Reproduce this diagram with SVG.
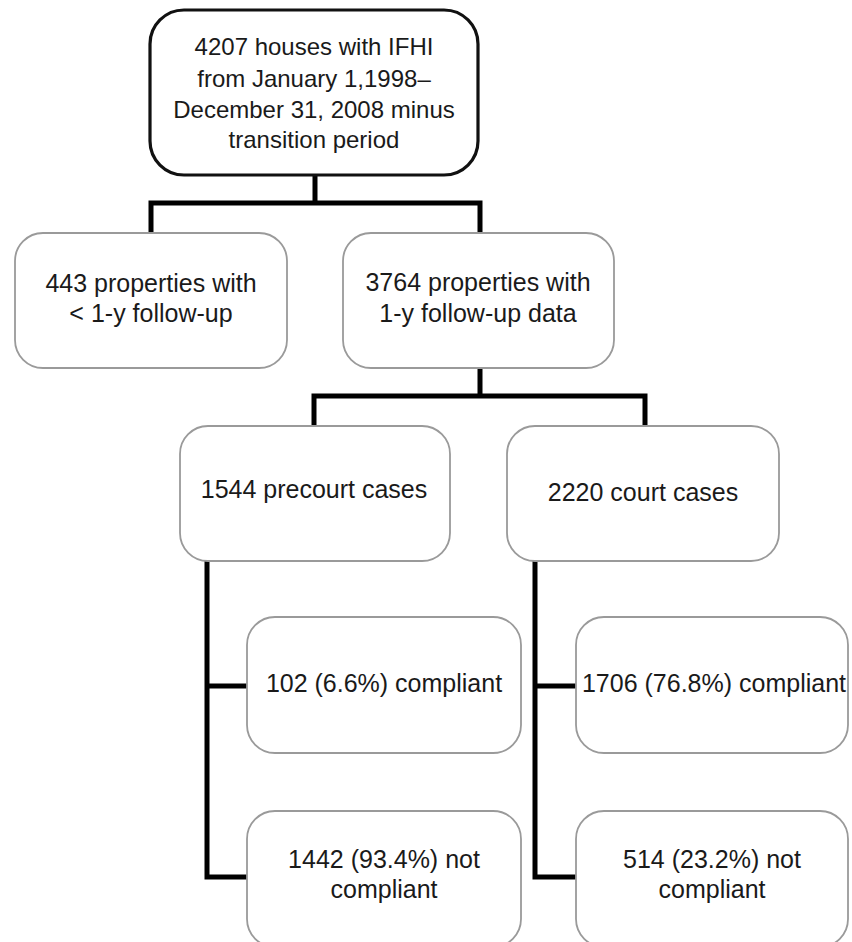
<svg xmlns="http://www.w3.org/2000/svg" width="852" height="942" viewBox="0 0 852 942">
<style>
.box{fill:#fff;stroke:#9a9a9a;stroke-width:1.8}
.top{fill:#fff;stroke:#111;stroke-width:3.2}
.conn{fill:none;stroke:#000;stroke-width:5;stroke-linejoin:miter;stroke-linecap:butt}
text{font-family:"Liberation Sans",Arial,sans-serif;font-size:25px;fill:#1a1a1a;text-anchor:middle}
.t{font-size:24px}
</style>
<rect width="852" height="942" fill="#fff"/>
<g id="connectors">
<path class="conn" d="M315 175V203M151 233V203H480V233"/>
<path class="conn" d="M480 368V396M314 426V396H645V426"/>
<path class="conn" d="M207 561V877H247M207 686H247"/>
<path class="conn" d="M535 561V877H576M535 686H576"/>
</g>
<g id="n-total">
<rect class="top" x="150" y="10" width="328" height="165" rx="34"/>
<text class="t" x="314" y="55">4207 houses with IFHI</text>
<text class="t" x="314" y="87">from January 1,1998–</text>
<text class="t" x="314" y="118">December 31, 2008 minus</text>
<text class="t" x="314" y="148">transition period</text>
</g>
<g id="n-less">
<rect class="box" x="15" y="233" width="272" height="135" rx="28"/>
<text x="151" y="292">443 properties with</text>
<text x="151" y="322">&lt; 1-y follow-up</text>
</g>
<g id="n-followup">
<rect class="box" x="343" y="233" width="271" height="135" rx="28"/>
<text x="478" y="291">3764 properties with</text>
<text x="478" y="322">1-y follow-up data</text>
</g>
<g id="n-precourt">
<rect class="box" x="180" y="426" width="270" height="135" rx="28"/>
<text x="314" y="498">1544 precourt cases</text>
</g>
<g id="n-court">
<rect class="box" x="507" y="426" width="272" height="135" rx="28"/>
<text x="643" y="501">2220 court cases</text>
</g>
<g id="n-pre-comp">
<rect class="box" x="247" y="617" width="274" height="136" rx="28"/>
<text x="384" y="692">102 (6.6%) compliant</text>
</g>
<g id="n-pre-noncomp">
<rect class="box" x="247" y="811" width="274" height="136" rx="28"/>
<text x="384" y="868">1442 (93.4%) not</text>
<text x="384" y="898">compliant</text>
</g>
<g id="n-court-comp">
<rect class="box" x="576" y="617" width="272" height="136" rx="28"/>
<text x="714" y="692">1706 (76.8%) compliant</text>
</g>
<g id="n-court-noncomp">
<rect class="box" x="576" y="811" width="272" height="136" rx="28"/>
<text x="712" y="868">514 (23.2%) not</text>
<text x="712" y="898">compliant</text>
</g>
</svg>
